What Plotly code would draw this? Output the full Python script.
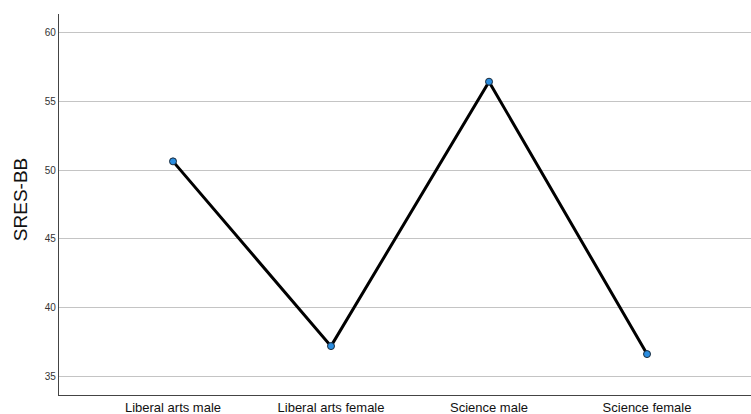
import plotly.graph_objects as go

categories = ["Liberal arts male", "Liberal arts female", "Science male", "Science female"]
values = [50.65, 37.2, 56.45, 36.62]
y_ticks = [35, 40, 45, 50, 55, 60]

fig = go.Figure()
fig.add_trace(go.Scatter(
    x=list(range(len(categories))), y=values, mode="lines+markers",
    line=dict(color="black", width=3),
    marker=dict(size=7, color="#2a8de0", line=dict(color="#1a2a3a", width=1)),
    showlegend=False,
))

fig.update_layout(
    width=751, height=414,
    margin=dict(l=59, r=0, t=14, b=19, autoexpand=False),
    plot_bgcolor="white", paper_bgcolor="white",
    font=dict(family="Liberation Sans, Arial, sans-serif", color="#222"),
    xaxis=dict(
        range=[-0.7215, 3.658], tickvals=list(range(len(categories))), ticktext=categories,
        showgrid=False, zeroline=False, showline=True, linecolor="#444", linewidth=1.3,
        ticks="", tickfont=dict(size=13, color="#111"), automargin=False,
    ),
    yaxis=dict(
        range=[33.64, 61.38], tickvals=y_ticks, showgrid=True, gridcolor="#c4c4c4", gridwidth=1,
        zeroline=False, showline=True, linecolor="#444", linewidth=1.3,
        ticks="", tickfont=dict(size=10, color="#333"), automargin=False,
    ),
    annotations=[dict(
        text="SRES-BB", textangle=-90, xref="paper", yref="paper",
        x=-0.0564, y=0.514, xanchor="center", yanchor="middle", showarrow=False,
        font=dict(size=19, color="#111"),
    )],
)

fig.write_html(
    "out.html",
    config={"displayModeBar": False},
    post_script="document.body.style.margin='0';document.body.style.overflow='hidden';",
)
